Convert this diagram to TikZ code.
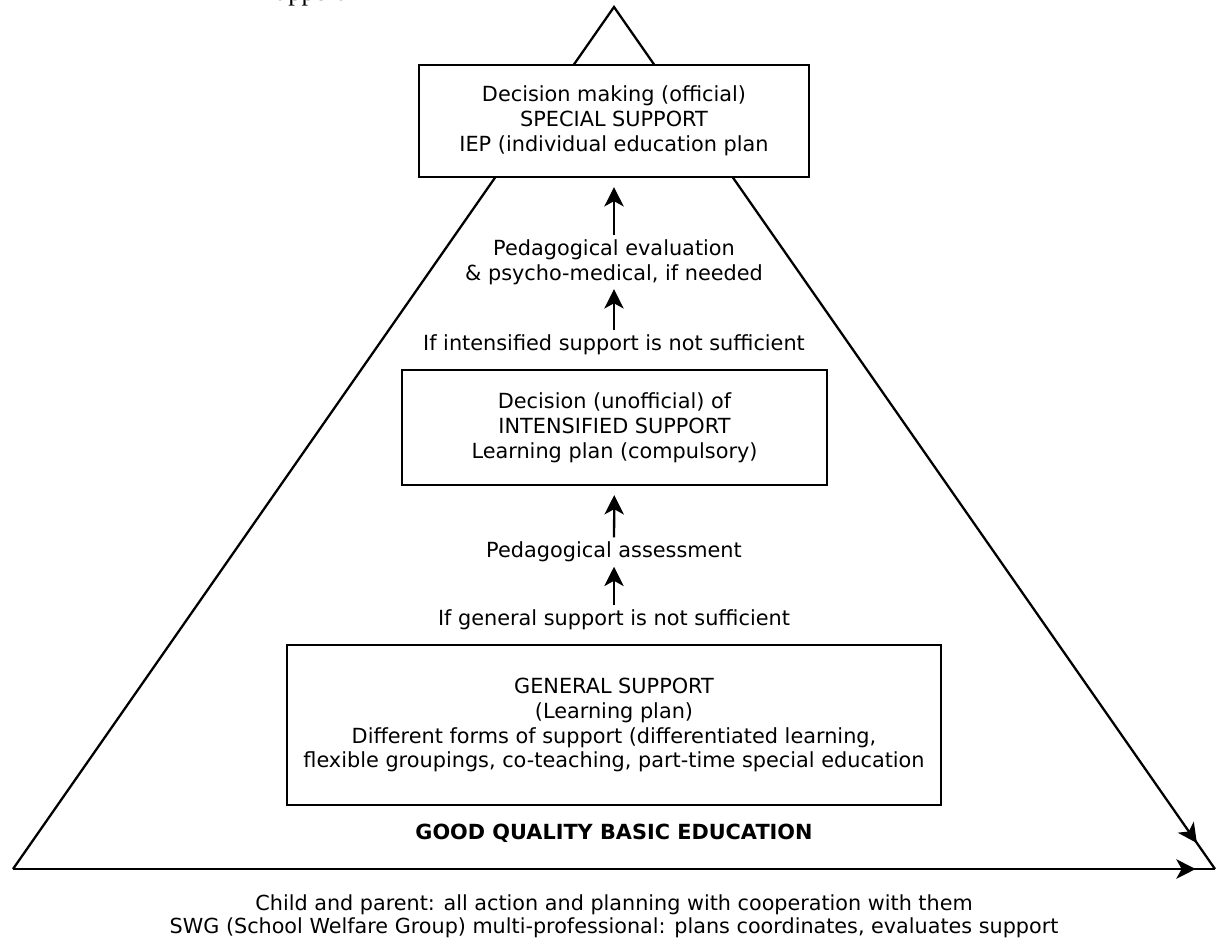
\documentclass[tikz,border=0pt]{standalone}
\usepackage{fontspec}
\setmainfont{DejaVu Sans}
\newfontfamily\serifcut{Liberation Serif}
\usetikzlibrary{arrows.meta,decorations.markings}

\begin{document}
\begin{tikzpicture}[x=0.02cm, y=-0.02cm, line width=1.3pt,
  >={Stealth[length=11pt,width=11pt,inset=3pt]},
  font=\fontsize{11.85}{14.2}\selectfont,
  box/.style={draw, line width=1.5pt, fill=white, align=center},
  lbl/.style={align=center, inner sep=2pt},
  tipat/.style={postaction={decorate},
    decoration={markings, mark=at position #1 with {\arrow{>}}}}]

  \useasboundingbox (0,0) rectangle (1216,943);

  % the pyramid
  \coordinate (apex) at (614,7);
  \coordinate (lc) at (13,869);
  \coordinate (rc) at (1215,869);
  \draw[line join=miter, tipat=-18pt] (lc) -- (apex) -- (rc);
  \draw[tipat=-11pt] (lc) -- (rc);

  \node (cut) [anchor=base west, inner sep=0pt,
    font=\serifcut\fontsize{15}{18}\selectfont] at (274,1) {upport};

  \node (spec) [box, minimum width=7.8cm, minimum height=2.24cm] at (614,121)
    {Decision making (official)\\SPECIAL SUPPORT\\IEP (individual education plan};
  \node (eval) [lbl] at (614,262)
    {Pedagogical evaluation\\\& psycho-medical, if needed};
  \node (ifint) [lbl] at (614,345) {If intensified support is not sufficient};
  \node (intens) [box, minimum width=8.5cm, minimum height=2.3cm] at (614.5,427.5)
    {Decision (unofficial) of\\INTENSIFIED SUPPORT\\Learning plan (compulsory)};
  \node (assess) [lbl] at (614,552) {Pedagogical assessment};
  \node (ifgen) [lbl] at (614,620) {If general support is not sufficient};
  \node (gen) [box, minimum width=13.08cm, minimum height=3.2cm] at (614,725)
    {GENERAL SUPPORT\\(Learning plan)\\Different forms of support (differentiated learning,\\flexible groupings, co-teaching, part-time special education};
  \node (good) at (614,833) {\bfseries GOOD QUALITY BASIC EDUCATION};
  \node (foot) [align=center, font=\fontsize{11.8}{13.2}\selectfont] at (614,916)
    {Child and parent: all action and planning with cooperation with them\\SWG (School Welfare Group) multi-professional: plans coordinates, evaluates support};

  \draw[->, shorten >=5pt] (eval) -- (spec);
  \draw[->] (ifint) -- (eval);
  \draw[->, shorten >=5pt] (assess) -- (intens);
  \draw[->] (ifgen) -- (assess);

\end{tikzpicture}
\end{document}
